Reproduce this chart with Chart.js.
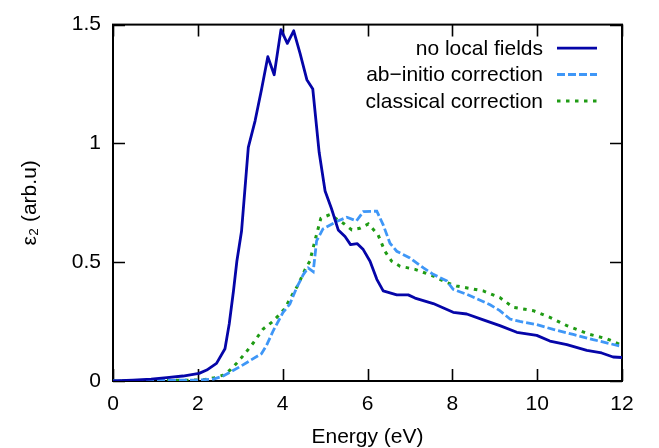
<!DOCTYPE html>
<html>
<head>
<meta charset="utf-8">
<script src="https://cdn.jsdelivr.net/npm/chart.js@4.4.1/dist/chart.umd.min.js"></script>
<style>
html,body{margin:0;padding:0;background:#fff;}
canvas{display:block;}
</style>
</head>
<body>
<canvas id="c" width="659" height="448"></canvas>
<script>
// ---- data ----
const seriesLabels = ["no local fields", "ab\u2212initio correction", "classical correction"];
const xTicks = [0, 2, 4, 6, 8, 10, 12];
const yTicks = [0, 0.5, 1, 1.5];

const energyNLF = [0,0.47,0.9,1.27,1.65,2.03,2.21,2.44,2.64,2.74,2.84,2.92,3.03,3.19,3.35,3.50,3.65,3.80,3.96,4.11,4.26,4.41,4.57,4.71,4.86,5.0,5.15,5.31,5.47,5.60,5.76,5.90,6.06,6.22,6.37,6.69,6.96,7.12,7.55,8.02,8.34,8.73,9.12,9.52,9.99,10.30,10.70,11.17,11.52,11.79,12.0];
const eps2NLF   = [0,0.004,0.008,0.014,0.021,0.032,0.046,0.074,0.136,0.24,0.379,0.504,0.63,0.983,1.095,1.226,1.365,1.289,1.479,1.421,1.474,1.379,1.268,1.229,0.9625,0.80,0.726,0.636,0.608,0.574,0.578,0.553,0.504,0.428,0.379,0.3625,0.3625,0.349,0.326,0.289,0.282,0.257,0.233,0.205,0.192,0.168,0.153,0.129,0.118,0.101,0.099];

const energyAbInitio = [0,1,2,2.37,2.6,2.99,3.5,3.62,3.78,4.01,4.17,4.33,4.49,4.60,4.72,4.80,4.95,5.27,5.51,5.74,5.90,6.22,6.37,6.53,6.69,7.0,7.32,7.55,7.87,8.02,8.34,8.89,9.12,9.36,9.59,9.99,10.38,10.85,11.32,11.72,12.0];
const eps2AbInitio   = [0,0.002,0.004,0.008,0.021,0.06,0.115,0.15,0.2125,0.289,0.324,0.393,0.449,0.476,0.46,0.59,0.64,0.671,0.689,0.674,0.7125,0.715,0.657,0.580,0.546,0.518,0.476,0.449,0.421,0.386,0.365,0.321,0.296,0.261,0.251,0.2375,0.217,0.196,0.174,0.157,0.145];

const energyClassical = [0,2,2.21,2.40,2.6,2.76,2.92,3.11,3.31,3.54,3.74,3.90,4.05,4.21,4.37,4.53,4.64,4.76,4.90,5.11,5.43,5.63,5.82,6.02,6.25,6.41,6.57,6.77,7.12,7.55,7.87,8.10,8.73,9.12,9.44,9.91,10.30,10.70,11.24,11.64,12.0];
const eps2Classical   = [0,0.004,0.007,0.014,0.025,0.046,0.076,0.115,0.161,0.219,0.247,0.275,0.305,0.358,0.407,0.47,0.504,0.59,0.685,0.70,0.664,0.636,0.643,0.661,0.615,0.546,0.504,0.483,0.47,0.442,0.414,0.40,0.379,0.351,0.31,0.296,0.268,0.233,0.196,0.178,0.15];

// ---- build ----
const pts = (xs, ys) => xs.map((x, i) => ({x: x, y: ys[i]}));
const FONT = "'Liberation Sans', Arial, sans-serif";
const FS = 21;

const frameAndTicks = {
  id: 'frameAndTicks',
  beforeDatasetsDraw(chart) {
    const {ctx, chartArea: a, scales} = chart;
    const L = 12;
    ctx.save();
    ctx.strokeStyle = '#000';
    ctx.lineWidth = 1.6;
    ctx.beginPath();
    scales.x.ticks.forEach(t => {
      const px = Math.round(scales.x.getPixelForValue(t.value)) + 0.5;
      ctx.moveTo(px, a.bottom); ctx.lineTo(px, a.bottom - L);
      ctx.moveTo(px, a.top); ctx.lineTo(px, a.top + L);
    });
    scales.y.ticks.forEach(t => {
      const py = Math.round(scales.y.getPixelForValue(t.value)) + 0.5;
      ctx.moveTo(a.left, py); ctx.lineTo(a.left + L, py);
      ctx.moveTo(a.right, py); ctx.lineTo(a.right - L, py);
    });
    ctx.stroke();
    ctx.lineWidth = 2;
    ctx.strokeRect(a.left, a.top, a.right - a.left, a.bottom - a.top);
    ctx.restore();
  }
};

const keyBox = {
  id: 'keyBox',
  afterDraw(chart) {
    const {ctx, chartArea: a} = chart;
    const textRight = a.right - 79;
    const x0 = a.right - 65, x1 = a.right - 25;
    ctx.save();
    ctx.font = FS + 'px ' + FONT;
    ctx.textAlign = 'right';
    ctx.textBaseline = 'middle';
    chart.data.datasets.forEach((ds, i) => {
      const y = a.top + 23.5 + i * 26.4;
      ctx.fillStyle = '#000';
      ctx.fillText(ds.label, textRight, y + 1);
      ctx.strokeStyle = ds.borderColor;
      ctx.lineWidth = ds.borderWidth;
      ctx.setLineDash(ds.borderDash || []);
      ctx.beginPath();
      ctx.moveTo(x0, y); ctx.lineTo(x1, y);
      ctx.stroke();
    });
    ctx.restore();
  }
};

new Chart(document.getElementById('c'), {
  type: 'line',
  data: {
    datasets: [
      {label: seriesLabels[0], data: pts(energyNLF, eps2NLF), borderColor: '#0505a8', borderWidth: 2.8, pointRadius: 0, tension: 0, borderJoinStyle: 'round'},
      {label: seriesLabels[1], data: pts(energyAbInitio, eps2AbInitio), borderColor: '#3f97f7', borderWidth: 2.8, borderDash: [8, 3], pointRadius: 0, tension: 0},
      {label: seriesLabels[2], data: pts(energyClassical, eps2Classical), borderColor: '#1f9b14', borderWidth: 3, borderDash: [3.5, 5.5], pointRadius: 0, tension: 0}
    ]
  },
  options: {
    responsive: false,
    animation: false,
    events: [],
    layout: {padding: {left: 0, right: 37, top: 20, bottom: 0}},
    plugins: {legend: {display: false}, tooltip: {enabled: false}},
    scales: {
      x: {
        type: 'linear', min: 0, max: 12,
        afterBuildTicks: s => { s.ticks = xTicks.map(v => ({value: v})); },
        afterFit: s => { s.height = 67; },
        grid: {display: true, drawOnChartArea: false, drawTicks: false, color: 'rgba(0,0,0,0)'},
        border: {display: false},
        ticks: {padding: 11, color: '#000', font: {family: FONT, size: FS}, maxRotation: 0, autoSkip: false, callback: v => String(v)},
        title: {display: true, text: 'Energy (eV)', color: '#000', font: {family: FONT, size: FS}, padding: {top: 0, bottom: -2}}
      },
      y: {
        type: 'linear', min: 0, max: 1.5,
        afterBuildTicks: s => { s.ticks = yTicks.map(v => ({value: v})); },
        afterFit: s => { s.width = 113; },
        grid: {display: true, drawOnChartArea: false, drawTicks: false, color: 'rgba(0,0,0,0)'},
        border: {display: false},
        ticks: {padding: 12, color: '#000', font: {family: FONT, size: FS}, autoSkip: false, callback: v => String(v)},
        title: {display: true, text: '\u03b5\u2082 (arb.u)', color: '#000', font: {family: FONT, size: FS}, padding: {top: 18, bottom: 0}}
      }
    }
  },
  plugins: [frameAndTicks, keyBox]
});
</script>
</body>
</html>
